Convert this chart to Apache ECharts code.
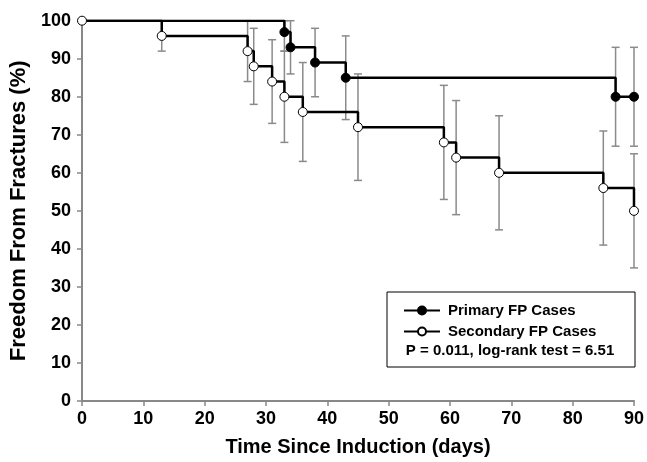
<!DOCTYPE html>
<html>
<head>
<meta charset="utf-8">
<script src="https://cdn.jsdelivr.net/npm/echarts@6/dist/echarts.min.js"></script>
<style>
html,body{margin:0;padding:0;background:#fff;}
#chart{width:647px;height:462px;}
</style>
</head>
<body>
<div id="chart"></div>
<script>
const xTicks = [0,10,20,30,40,50,60,70,80,90];
const yTicks = [0,10,20,30,40,50,60,70,80,90,100];

const primaryDays = [0,33,34,38,43,87,90];
const primarySurv = [100,97,93,89,85,80,80];
const primaryLo   = [null,92,86,80,74,67,67];
const primaryHi   = [null,100,100,98,96,93,93];

const secondaryDays = [0,13,27,28,31,33,36,45,59,61,68,85,90];
const secondarySurv = [100,96,92,88,84,80,76,72,68,64,60,56,50];
const secondaryLo   = [null,92,84,78,73,68,63,58,53,49,45,41,35];
const secondaryHi   = [null,100,100,98,95,92,89,86,83,79,75,71,65];

const legendNames = ['Primary FP Cases','Secondary FP Cases'];
const statText = 'P = 0.011, log-rank test = 6.51';

function errData(days, lo, hi){
  const out = [];
  for (let i=0;i<days.length;i++){
    if (lo[i] != null) out.push([days[i], lo[i], hi[i]]);
  }
  return out;
}

const primaryData = primaryDays.map((d,i)=> i===0 ? {value:[d,primarySurv[i]], symbol:'none'} : [d,primarySurv[i]]);
const secondaryData = secondaryDays.map((d,i)=>[d,secondarySurv[i]]);

function renderErr(params, api){
  const x = api.value(0);
  const lo = api.coord([x, api.value(1)]);
  const hi = api.coord([x, api.value(2)]);
  const hw = 4;
  const style = {stroke:'#8a8a8a', lineWidth:1.5, fill:null};
  return {
    type:'group',
    children:[
      {type:'line', shape:{x1:lo[0],y1:lo[1],x2:hi[0],y2:hi[1]}, style},
      {type:'line', shape:{x1:lo[0]-hw,y1:lo[1],x2:lo[0]+hw,y2:lo[1]}, style},
      {type:'line', shape:{x1:hi[0]-hw,y1:hi[1],x2:hi[0]+hw,y2:hi[1]}, style}
    ]
  };
}

const font = '"Liberation Sans", Arial, sans-serif';
const chart = echarts.init(document.getElementById('chart'));
chart.setOption({
  animation:false,
  backgroundColor:'#fff',
  grid:{left:82, right:10, top:20.7, bottom:57, containLabel:false},
  xAxis:{
    type:'value', min:0, max:90, interval:10,
    name:'Time Since Induction (days)', nameLocation:'middle', nameGap:36,
    nameTextStyle:{fontFamily:font, fontWeight:'bold', fontSize:20, color:'#000'},
    axisLine:{lineStyle:{color:'#888', width:2}},
    axisTick:{show:true, length:5, lineStyle:{color:'#888', width:1.5}},
    axisLabel:{fontFamily:font, fontWeight:'bold', fontSize:18, color:'#000', margin:9,
      formatter:v=> xTicks.includes(v) ? String(v) : ''},
    splitLine:{show:false}
  },
  yAxis:{
    type:'value', min:0, max:100, interval:10,
    name:'Freedom From Fractures (%)', nameLocation:'middle', nameGap:47, nameRotate:90,
    nameTextStyle:{fontFamily:font, fontWeight:'bold', fontSize:22, color:'#000'},
    axisLine:{show:true, lineStyle:{color:'#888', width:2}},
    axisTick:{show:true, length:5, lineStyle:{color:'#888', width:1.5}},
    axisLabel:{fontFamily:font, fontWeight:'bold', fontSize:18, color:'#000', margin:11,
      formatter:v=> yTicks.includes(v) ? String(v) : ''},
    splitLine:{show:false}
  },
  legend:{
    data:legendNames,
    orient:'vertical', left:398, top:298, itemGap:6,
    itemWidth:36, itemHeight:10,
    textStyle:{fontFamily:font, fontWeight:'bold', fontSize:15, color:'#000', padding:[0,0,0,3]},
    selectedMode:false
  },
  graphic:[
    {type:'rect', x:387, y:292, shape:{x:0, y:0, width:248, height:75}, style:{fill:'none', stroke:'#000', lineWidth:1}, z:100},
    {type:'text', x:510, y:351, style:{text:statText, font:'bold 15px '+font, fill:'#000', textAlign:'center', textVerticalAlign:'middle'}, z:100}
  ],
  series:[
    {type:'custom', name:'primaryErr', renderItem:renderErr, data:errData(primaryDays,primaryLo,primaryHi), z:1, silent:true},
    {type:'custom', name:'secondaryErr', renderItem:renderErr, data:errData(secondaryDays,secondaryLo,secondaryHi), z:1, silent:true},
    {type:'line', name:legendNames[0], step:'end', data:primaryData, z:3,
      symbol:'circle', symbolSize:9, showAllSymbol:true,
      lineStyle:{color:'#000', width:2.5},
      itemStyle:{color:'#000', borderColor:'#000', borderWidth:1}},
    {type:'line', name:legendNames[1], step:'end', data:secondaryData, z:4,
      symbol:'circle', symbolSize:9, showAllSymbol:true,
      lineStyle:{color:'#000', width:2.5},
      itemStyle:{color:'#fff', borderColor:'#000', borderWidth:1}}
  ]
});
</script>
</body>
</html>
